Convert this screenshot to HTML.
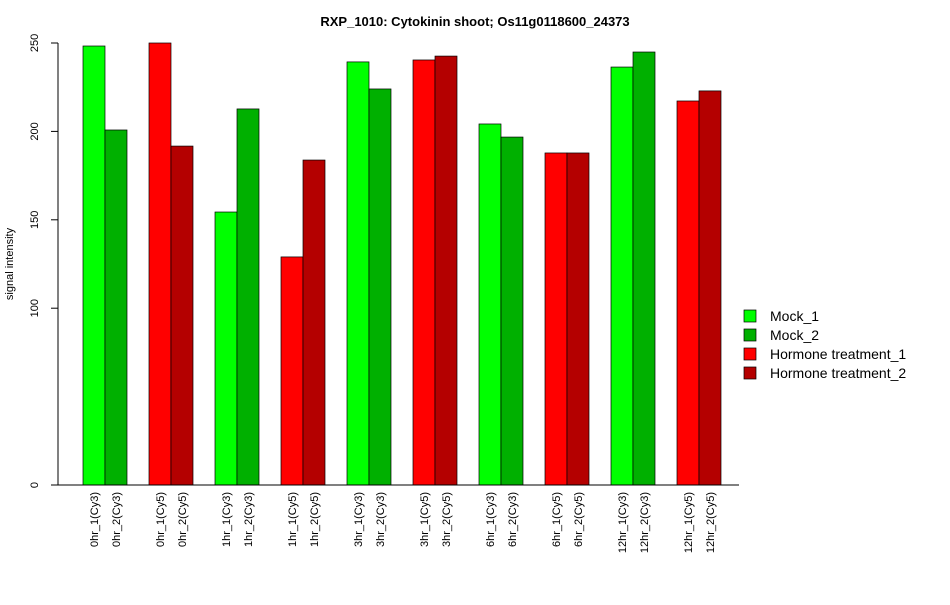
<!DOCTYPE html>
<html><head><meta charset="utf-8"><style>
body{margin:0;background:#fff;font-family:"Liberation Sans",Arial,sans-serif}
</style></head><body>
<svg id="chart" width="950" height="600" xmlns="http://www.w3.org/2000/svg" font-family="Liberation Sans, Arial, sans-serif">
<text x="475" y="26" text-anchor="middle" font-size="13" font-weight="bold">RXP_1010: Cytokinin shoot; Os11g0118600_24373</text>
<text transform="translate(13,264) rotate(-90)" text-anchor="middle" font-size="11">signal intensity</text>
<g id="plot"></g>
<g>
<rect x="744" y="310" width="12" height="12" fill="#00ff00" stroke="#000" stroke-width="0.7"/>
<text x="770" y="321" font-size="14">Mock_1</text>
<rect x="744" y="329" width="12" height="12" fill="#00b000" stroke="#000" stroke-width="0.7"/>
<text x="770" y="340" font-size="14">Mock_2</text>
<rect x="744" y="348" width="12" height="12" fill="#ff0000" stroke="#000" stroke-width="0.7"/>
<text x="770" y="359" font-size="14">Hormone treatment_1</text>
<rect x="744" y="367" width="12" height="12" fill="#b40000" stroke="#000" stroke-width="0.7"/>
<text x="770" y="378" font-size="14">Hormone treatment_2</text>
</g>
</svg>
<script>
const categories=["0hr_1(Cy3)","0hr_2(Cy3)","0hr_1(Cy5)","0hr_2(Cy5)","1hr_1(Cy3)","1hr_2(Cy3)","1hr_1(Cy5)","1hr_2(Cy5)","3hr_1(Cy3)","3hr_2(Cy3)","3hr_1(Cy5)","3hr_2(Cy5)","6hr_1(Cy3)","6hr_2(Cy3)","6hr_1(Cy5)","6hr_2(Cy5)","12hr_1(Cy3)","12hr_2(Cy3)","12hr_1(Cy5)","12hr_2(Cy5)"];
const values=[248.3,200.8,250,191.7,154.4,212.7,129,183.8,239.3,224,240.4,242.6,204.2,196.8,187.8,187.8,236.4,244.9,217.2,222.9];
const yTicks=[0,100,150,200,250];
const colors=["#00ff00","#00b000","#ff0000","#b40000"];
const NS="http://www.w3.org/2000/svg";
const g=document.getElementById("plot");
function y(v){return 485-v*1.768;}
function x(i){return 83+Math.floor(i/2)*66+(i%2)*22;}
function mk(t,a){const e=document.createElementNS(NS,t);for(const k in a)e.setAttribute(k,a[k]);g.appendChild(e);return e;}
values.forEach((v,i)=>{
 const r=mk("rect",{x:x(i),y:y(v),width:22,height:485-y(v),fill:colors[i%4],stroke:"#000","stroke-width":0.7});
 
 
 const cx=x(i)+11;
 const t=mk("text",{transform:`translate(${cx+4},492) rotate(-90)`,"text-anchor":"end","font-size":11});
 t.textContent=categories[i];
 
 
});
const ax=mk("line",{x1:58,x2:739,y1:485,y2:485,stroke:"#000"});


const ay=mk("line",{x1:58,x2:58,y1:y(yTicks[yTicks.length-1]),y2:y(0),stroke:"#000"});


yTicks.forEach(v=>{
 const tk=mk("line",{x1:51,x2:58,y1:y(v),y2:y(v),stroke:"#000"});
 
 
 const t=mk("text",{transform:`translate(38,${y(v)}) rotate(-90)`,"text-anchor":"middle","font-size":11});
 t.textContent=v;
 
 
});
</script>
</body></html>
